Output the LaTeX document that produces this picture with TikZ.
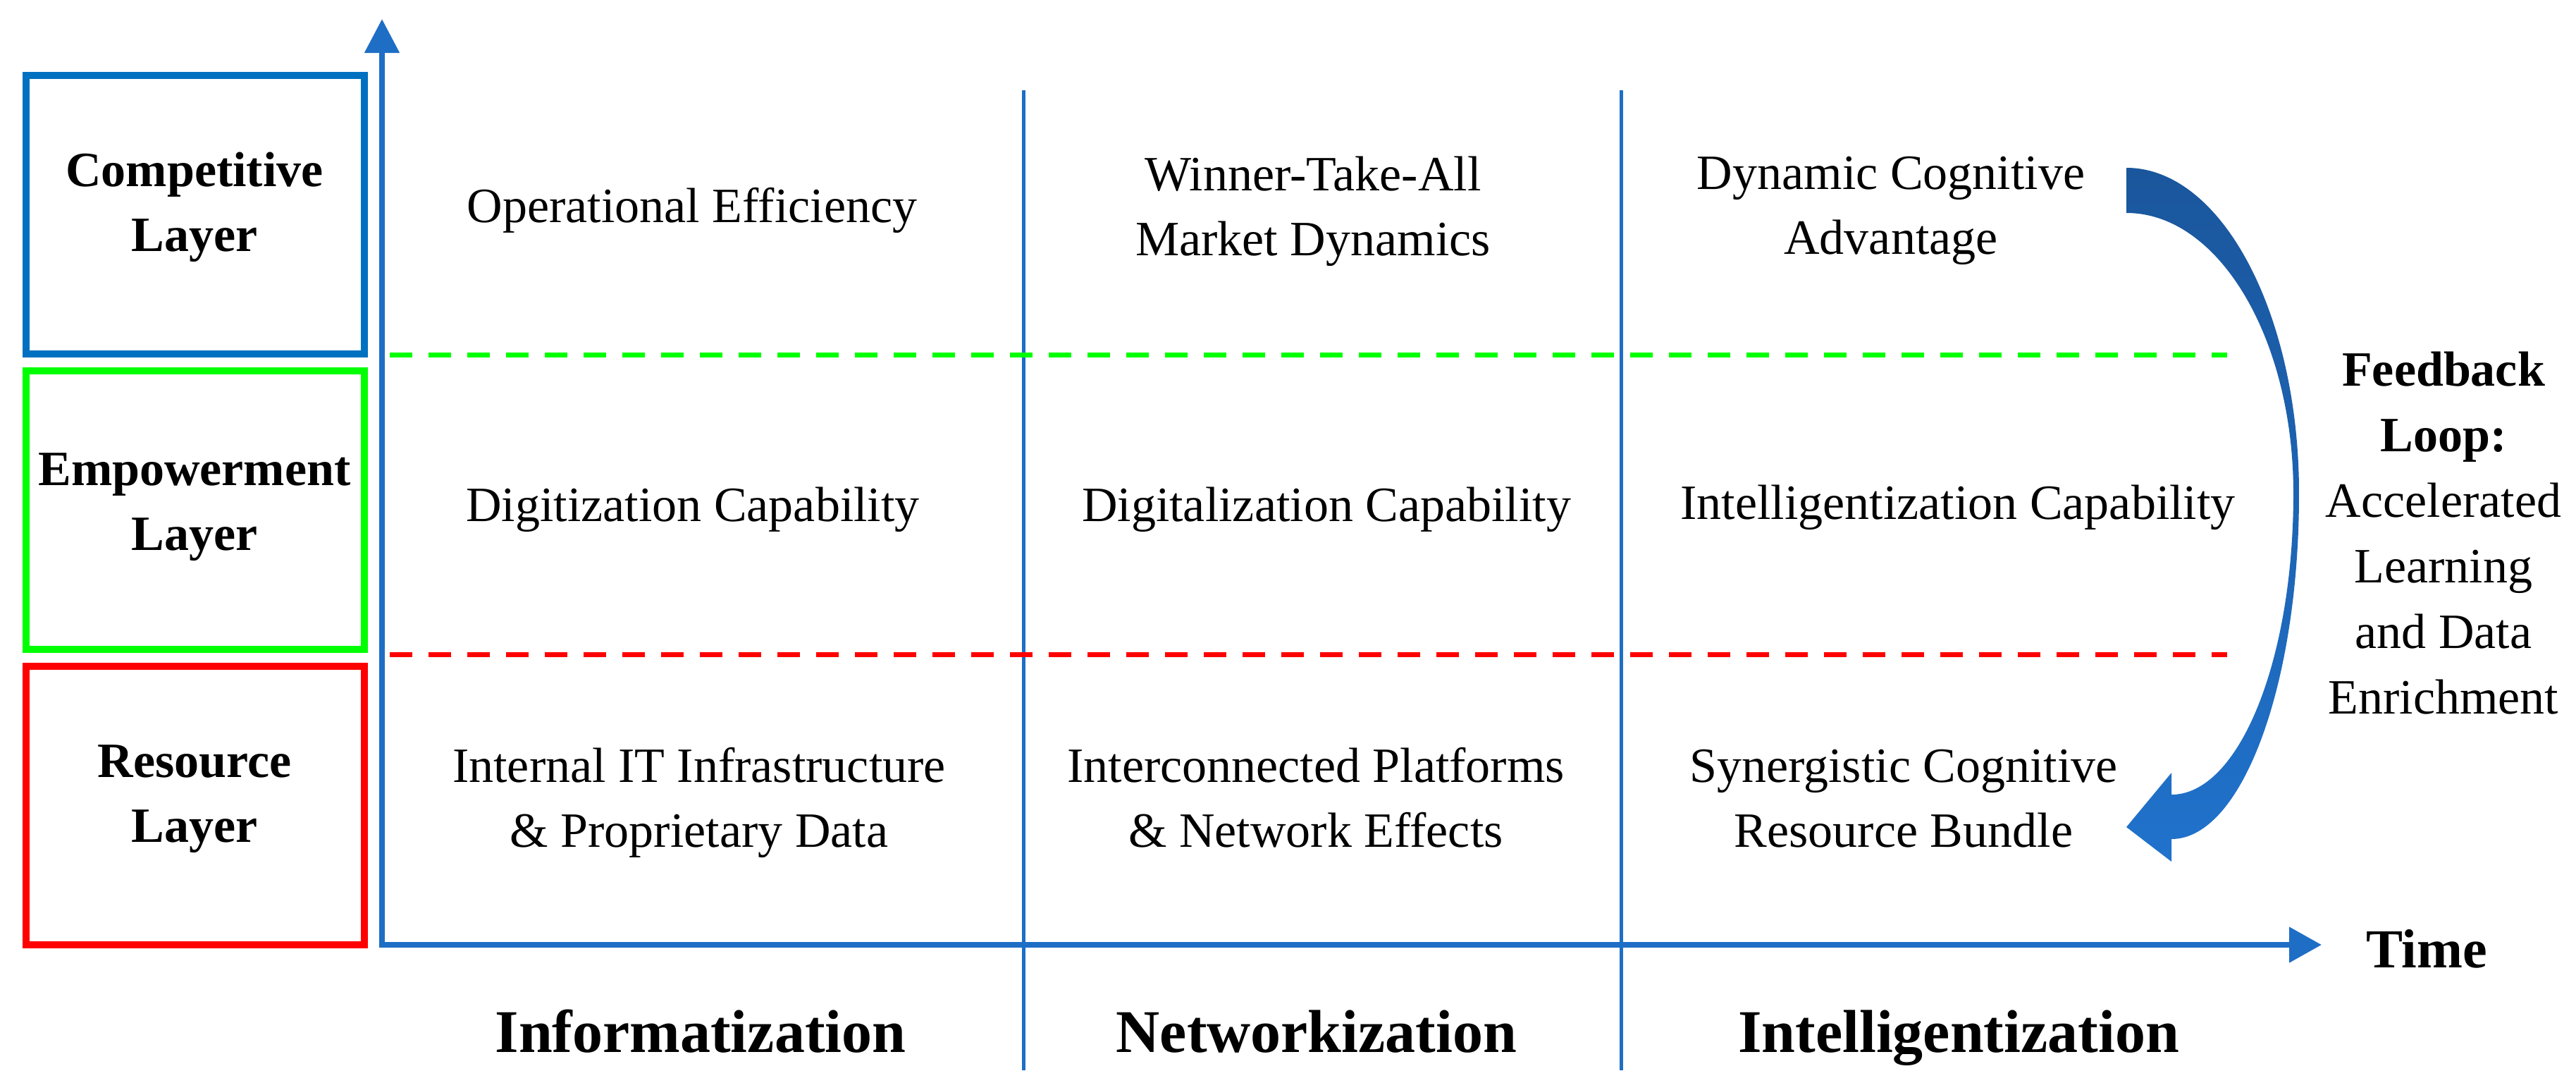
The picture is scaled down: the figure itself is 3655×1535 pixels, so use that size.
\documentclass[tikz,border=0pt]{standalone}
\usepackage{fontspec}
\setmainfont{Liberation Serif}
\usetikzlibrary{arrows.meta}
\definecolor{axisblue}{RGB}{30,110,198}
\definecolor{boxblue}{RGB}{0,112,192}
\definecolor{boxgreen}{RGB}{0,255,0}
\definecolor{boxred}{RGB}{255,0,0}
\definecolor{arrowtop}{RGB}{26,86,156}
\definecolor{arrowbot}{RGB}{32,114,204}
\tikzset{
  layerbox/.style={draw, line width=10pt, minimum width=480pt, minimum height=395pt, inner sep=0pt},
  layerlbl/.style={font=\fontsize{70}{92}\selectfont\bfseries, align=center, inner sep=0pt},
  celltext/.style={font=\fontsize{70}{92}\selectfont, align=center, inner sep=0pt},
  stagelbl/.style={font=\fontsize{86}{110}\selectfont\bfseries, inner sep=0pt},
  divider/.style={draw=axisblue, line width=5pt},
  layerline/.style={line width=7pt, dash pattern=on 32pt off 23pt},
  axisline/.style={draw=axisblue, line width=8pt, line join=miter},
}
\begin{document}
\begin{tikzpicture}[x=1pt,y=-1pt]
\useasboundingbox (0,0) rectangle (3655,1535);
\fill[white] (0,0) rectangle (3655,1535);

% dividers
\coordinate (d1t) at (1452,128); \coordinate (d1b) at (1452,1518);
\coordinate (d2t) at (2300,128); \coordinate (d2b) at (2300,1518);
\draw[divider] (d1t) -- (d1b);
\draw[divider] (d2t) -- (d2b);

% dashed layer separators
\coordinate (gL) at (553,503); \coordinate (gR) at (3160,503);
\coordinate (rL) at (553,928); \coordinate (rR) at (3160,928);
\draw[layerline, boxgreen] (gL) -- (gR);
\draw[layerline, boxred] (rL) -- (rR);

% axes
\coordinate (ytip) at (542,27);
\coordinate (origin) at (542,1340);
\coordinate (xtip) at (3294,1340);
\draw[axisline, {Triangle[length=48pt,width=48pt]}-{Triangle[length=46pt,width=49pt]}] (ytip) -- (origin) -- (xtip);

% layer boxes
\node[layerbox, draw=boxblue] (compbox) at (277,304) {};
\node[layerbox, draw=boxgreen] (empbox) at (277,723.5) {};
\node[layerbox, draw=boxred] (resbox) at (277,1142.5) {};
\node[layerlbl] (complbl) at (276,292) {\strut Competitive\\\strut Layer};
\node[layerlbl] (emplbl) at (276,716) {\strut Empowerment\\\strut Layer};
\node[layerlbl] (reslbl) at (276,1130) {\strut Resource\\\strut Layer};

% cells
\node[celltext] (c11) at (982,297) {\strut Operational Efficiency};
\node[celltext] (c12) at (1863,298) {\strut Winner-Take-All\\\strut Market Dynamics};
\node[celltext] (c13) at (2683,296) {\strut Dynamic Cognitive\\\strut Advantage};
\node[celltext] (c21) at (983,721) {\strut Digitization Capability};
\node[celltext] (c22) at (1882,721) {\strut Digitalization Capability};
\node[celltext] (c23) at (2778,718) {\strut Intelligentization Capability};
\node[celltext] (c31) at (992,1137) {\strut Internal IT Infrastructure\\\strut \& Proprietary Data};
\node[celltext] (c32) at (1867,1137) {\strut Interconnected Platforms\\\strut \& Network Effects};
\node[celltext] (c33) at (2701,1137) {\strut Synergistic Cognitive\\\strut Resource Bundle};

% stage labels
\node[stagelbl] (s1) at (994,1470) {\strut Informatization};
\node[stagelbl] (s2) at (1868,1470) {\strut Networkization};
\node[stagelbl] (s3) at (2779,1470) {\strut Intelligentization};

% time label
\node[font=\fontsize{78}{100}\selectfont\bfseries, inner sep=0pt] (timelbl) at (3443,1352) {\strut Time};

% feedback loop arrow
\shade[top color=arrowtop, bottom color=arrowbot] (3017,238)
  .. controls (3152,238) and (3262,445) .. (3262,700)
  .. controls (3262,971) and (3181,1190) .. (3081,1190)
  -- (3081,1222) -- (3017,1173) -- (3081,1096) -- (3081,1127)
  .. controls (3177,1127) and (3254,936) .. (3254,700)
  .. controls (3254,480) and (3148,302) .. (3017,302) -- cycle;

% feedback text
\node[font=\fontsize{70}{93}\selectfont, align=center, inner sep=0pt] (fb) at (3467,761)
  {\strut\textbf{Feedback}\\\strut\textbf{Loop:}\\\strut Accelerated\\\strut Learning\\\strut and Data\\\strut Enrichment};
\end{tikzpicture}
\end{document}
